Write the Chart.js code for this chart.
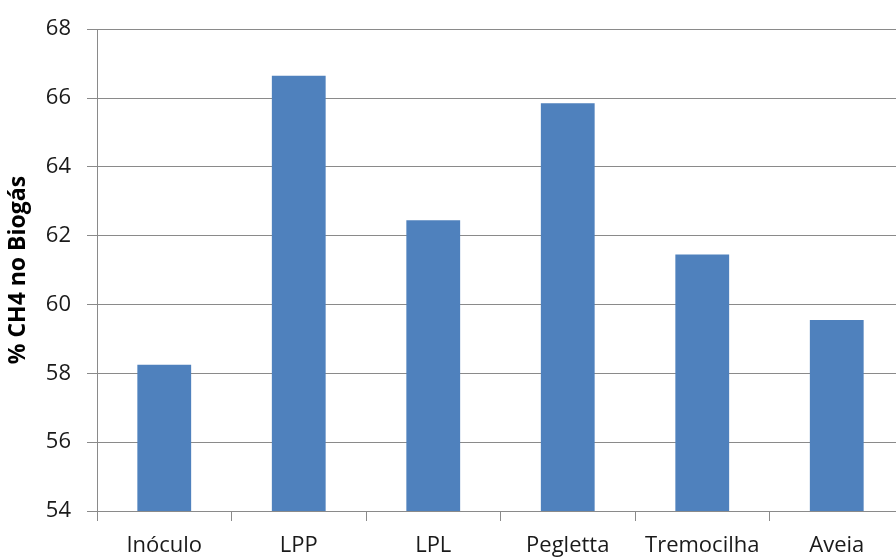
<!DOCTYPE html>
<html>
<head>
<meta charset="utf-8">
<script src="https://cdn.jsdelivr.net/npm/chart.js@4/dist/chart.umd.min.js"></script>
<style>
  html, body { margin: 0; padding: 0; background: #fff; overflow: hidden; }
  #wrap { width: 920px; height: 558px; }
</style>
</head>
<body>
<div id="wrap"><canvas id="c"></canvas></div>
<script>
// Metano no biogás por substrato
const categories = ['Inóculo', 'LPP', 'LPL', 'Pegletta', 'Tremocilha', 'Aveia'];
const ch4Percent = [58.25, 66.65, 62.45, 65.85, 61.45, 59.55];
const yTicks = [54, 56, 58, 60, 62, 64, 66, 68];

const AXIS_LEFT = 97;
const X_AXIS_HEIGHT = 47;

new Chart(document.getElementById('c'), {
  type: 'bar',
  data: {
    labels: categories,
    datasets: [{
      data: ch4Percent,
      backgroundColor: '#4F81BD',
      borderWidth: 0,
      categoryPercentage: 0.4,
      barPercentage: 1.0
    }]
  },
  options: {
    responsive: true,
    maintainAspectRatio: false,
    animation: false,
    layout: { padding: { top: 12, right: 16, bottom: 0, left: 0 } },
    plugins: { legend: { display: false }, tooltip: { enabled: false } },
    scales: {
      x: {
        offset: true,
        afterFit: (scale) => { scale.height = X_AXIS_HEIGHT; },
        grid: {
          offset: true,
          drawOnChartArea: false,
          drawTicks: true,
          tickLength: 10,
          color: '#8a8a8a'
        },
        border: { color: '#8a8a8a', width: 1 },
        ticks: {
          color: '#1a1a1a',
          font: { family: 'Open Sans', size: 22 },
          padding: 12,
          maxRotation: 0,
          autoSkip: false
        }
      },
      y: {
        min: 54,
        max: 68,
        afterBuildTicks: (scale) => { scale.ticks = yTicks.map(v => ({ value: v })); },
        afterFit: (scale) => { scale.width = AXIS_LEFT; },
        grid: {
          color: '#8a8a8a',
          drawTicks: true,
          tickLength: 10
        },
        border: { color: '#8a8a8a', width: 1 },
        ticks: {
          color: '#1a1a1a',
          font: { family: 'Open Sans', size: 22 },
          padding: 16
        },
        title: {
          display: true,
          text: '% CH4 no Biogás',
          color: '#000',
          font: { family: 'Open Sans', size: 23, weight: 'bold' },
          padding: { top: 5, bottom: 0 }
        }
      }
    }
  }
});
</script>
</body>
</html>
